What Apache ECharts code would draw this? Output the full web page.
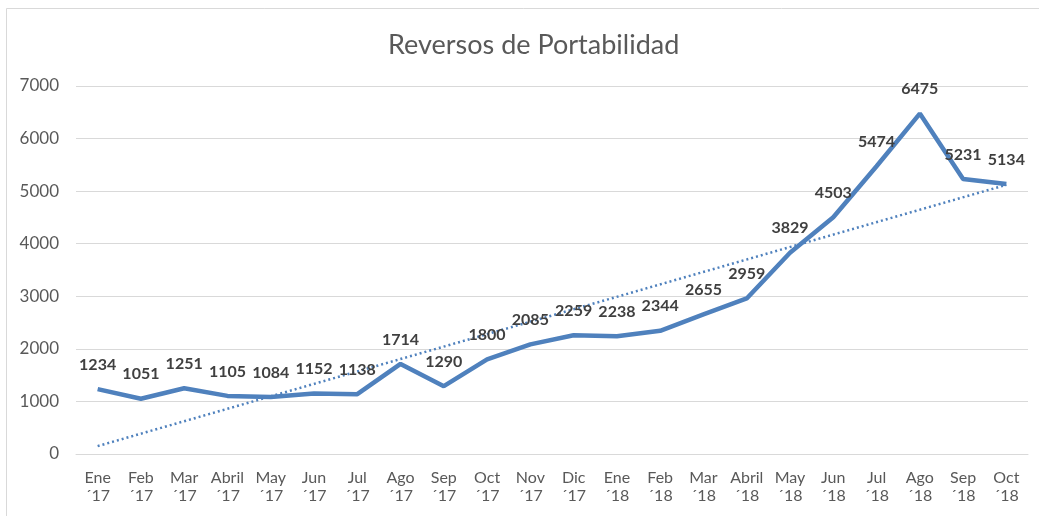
<!DOCTYPE html>
<html>
<head>
<meta charset="utf-8">
<script src="https://cdn.jsdelivr.net/npm/echarts@6/dist/echarts.min.js"></script>
<style>html,body{margin:0;padding:0;background:#fff}#c{width:1039px;height:516px}</style>
</head>
<body>
<div id="c"></div>
<script>
const categories = ['Ene\n´17','Feb\n´17','Mar\n´17','Abril\n´17','May\n´17','Jun\n´17','Jul\n´17','Ago\n´17','Sep\n´17','Oct\n´17','Nov\n´17','Dic\n´17','Ene\n´18','Feb\n´18','Mar\n´18','Abril\n´18','May\n´18','Jun\n´18','Jul\n´18','Ago\n´18','Sep\n´18','Oct\n´18'];
const reversos = [1234,1051,1251,1105,1084,1152,1138,1714,1290,1800,2085,2259,2238,2344,2655,2959,3829,4503,5474,6475,5231,5134];
// trendline endpoints (first and last category)
const trendStart = 150;
const trendEnd = 5120;
const yTicks = [0,1000,2000,3000,4000,5000,6000,7000];

const trendData = categories.map((c, i) => i === 0 ? trendStart : (i === categories.length - 1 ? trendEnd : null));

const chart = echarts.init(document.getElementById('c'), null, {renderer: 'canvas'});
chart.setOption({
  animation: false,
  backgroundColor: '#fff',
  graphic: [{
    type: 'rect', shape: {x: 6.5, y: 8.5, width: 1100, height: 600},
    style: {fill: 'none', stroke: '#d9d9d9', lineWidth: 1}, silent: true
  }],
  title: {
    text: 'Reversos de Portabilidad',
    left: 383, top: 27,
    textStyle: {fontFamily: 'Lato', fontWeight: 'normal', fontSize: 27, color: '#595959'}
  },
  grid: {left: 76, right: 11, top: 86, bottom: 62},
  xAxis: {
    type: 'category', data: categories, boundaryGap: true,
    axisLine: {show: true, lineStyle: {color: '#d9d9d9', width: 1}},
    axisTick: {show: false},
    axisLabel: {color: '#595959', fontFamily: 'Lato', fontSize: 16, lineHeight: 18, margin: 15, interval: 0}
  },
  yAxis: {
    type: 'value', min: yTicks[0], max: yTicks[yTicks.length - 1], interval: 1000,
    axisLine: {show: false}, axisTick: {show: false},
    splitLine: {lineStyle: {color: '#d9d9d9', width: 1}},
    axisLabel: {color: '#595959', fontFamily: 'Lato', fontSize: 17, margin: 17, formatter: v => String(v)}
  },
  series: [
    {
      name: 'Reversos', type: 'line', data: reversos,
      symbol: 'circle', symbolSize: 1, showSymbol: true, z: 3,
      itemStyle: {color: '#4f81bd', opacity: 0},
      lineStyle: {color: '#4f81bd', width: 4.5},
      label: {show: true, position: 'top', distance: 16, fontFamily: 'Lato', fontWeight: 'bold', fontSize: 16, color: '#404040', opacity: 1},
      labelLayout: {hideOverlap: false}
    },
    {
      name: 'Tendencia', type: 'line', data: trendData, connectNulls: true,
      symbol: 'none', z: 2,
      lineStyle: {color: '#4f81bd', width: 2.5, type: [2, 3]}
    }
  ]
});
</script>
</body>
</html>
